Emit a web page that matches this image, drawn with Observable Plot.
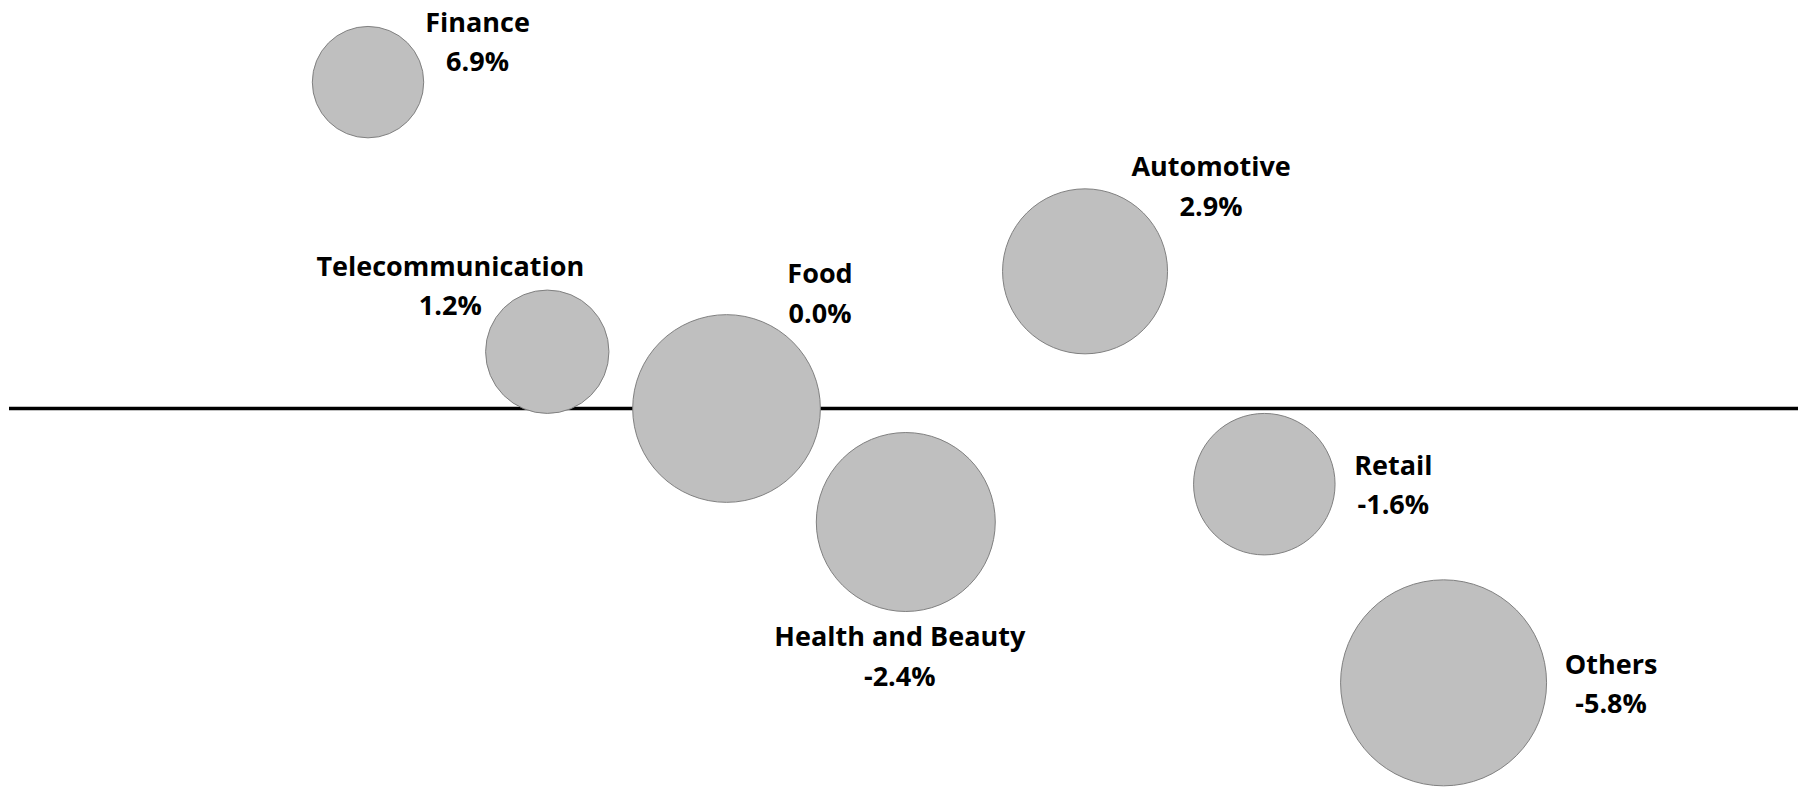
<!DOCTYPE html>
<html><head><meta charset="utf-8">
<script src="https://cdn.jsdelivr.net/npm/d3@7"></script>
<script src="https://cdn.jsdelivr.net/npm/@observablehq/plot@0.6"></script>
<style>html,body{margin:0;padding:0;background:#fff;overflow:hidden}</style>
</head><body><div id="chart"></div>
<script>
// ---- data ----
const categories = ["Finance", "Telecommunication", "Food", "Health and Beauty", "Automotive", "Retail", "Others"];
const growth = [6.9, 1.2, 0.0, -2.4, 2.9, -1.6, -5.8];      // % change (y)
const bubbleSize = [31, 38, 88, 80, 68, 50, 106];             // relative bubble size (area)

// ---- layout (label block offset from bubble centre, px: dx, baseline-midpoint dy) ----
const labelOffsets = [[109.5, -30.5], [-97, -56], [93.5, -105.5], [-6, 144], [126, -75.5], [129, 10.5], [167.5, 10.5]];

const data = categories.map((c, i) => ({name: c, idx: i + 1, growth: growth[i], size: bubbleSize[i]}));

const fontSize = 27, lineHeight = 1.46;
const labelMarks = data.map((d, i) => Plot.text([d], {
  x: "idx", y: "growth",
  text: d => `${d.name}\n${d.growth.toFixed(1)}%`,
  textAnchor: "middle", lineAnchor: "middle", lineHeight,
  fontSize, fontWeight: 700, fontFamily: "'Open Sans', Lato, sans-serif",
  fill: "#000",
  dx: labelOffsets[i][0],
  dy: labelOffsets[i][1] - 0.32 * lineHeight * fontSize
}));

const chart = Plot.plot({
  width: 1798, height: 787,
  marginTop: 0, marginBottom: 0, marginLeft: 9, marginRight: 0,
  x: {domain: [-1, 8.98], axis: null},
  y: {domain: [-8.013, 8.626], axis: null},
  r: {type: "sqrt", domain: [0, 106], range: [0, 103]},
  style: {background: "#fff", overflow: "visible"},
  marks: [
    Plot.ruleY([0], {stroke: "#000", strokeWidth: 3.3}),
    Plot.dot(data, {x: "idx", y: "growth", r: "size", fill: "#bfbfbf", stroke: "#808080", strokeWidth: 1, sort: null}),
    ...labelMarks
  ]
});
document.getElementById("chart").appendChild(chart);
</script>
</body></html>
